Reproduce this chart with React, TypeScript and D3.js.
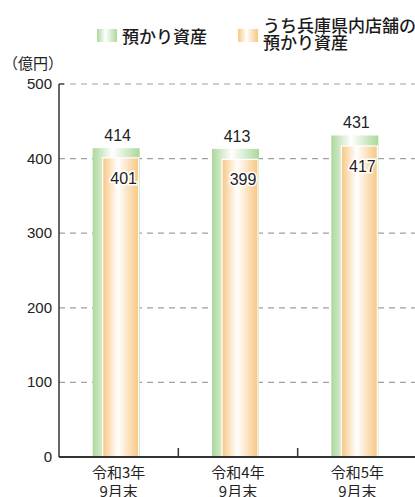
import React, { useEffect, useRef } from 'react';
import * as d3 from 'd3';

const categories = ['令和3年\n9月末', '令和4年\n9月末', '令和5年\n9月末'];
const totalAssets = [414, 413, 431];
const hyogoAssets = [401, 399, 417];
const yTicks = [0, 100, 200, 300, 400, 500];
const legendLabels = ['預かり資産', 'うち兵庫県内店舗の\n預かり資産'];

const JP = '"Noto Sans CJK JP", "Noto Sans", sans-serif';
const NUM = '"Liberation Sans Narrow", "Liberation Sans", Arial, sans-serif';

const App: React.FC = () => {
  const svgRef = useRef<SVGSVGElement>(null);

  useEffect(() => {
    if (!svgRef.current) return;
    const svg = d3.select(svgRef.current);
    svg.selectAll('*').remove();

    const W = 415;
    const H = 497;
    const x0 = 59;
    const x1 = 417;

    const y = d3.scaleLinear().domain([0, 500]).range([457, 84]);
    const x = d3.scaleBand().domain(categories).range([x0, x1]);

    // Gradients
    const defs = svg.append('defs');
    const grad = (id: string, edge: string, mid: string) => {
      const g = defs.append('linearGradient').attr('id', id)
        .attr('x1', '0%').attr('x2', '100%').attr('y1', '0%').attr('y2', '0%');
      g.append('stop').attr('offset', '0%').attr('stop-color', edge);
      g.append('stop').attr('offset', '42%').attr('stop-color', mid);
      g.append('stop').attr('offset', '100%').attr('stop-color', edge);
    };
    grad('gGreen', '#acd89b', '#ffffff');
    grad('gOrange', '#f8c682', '#ffffff');

    // Grid lines
    svg.append('g')
      .selectAll('line')
      .data(yTicks.filter(d => d > 0))
      .enter()
      .append('line')
      .attr('x1', x0)
      .attr('x2', W)
      .attr('y1', d => y(d))
      .attr('y2', d => y(d))
      .attr('stroke', '#a0a0a0')
      .attr('stroke-width', 1.2)
      .attr('stroke-dasharray', '6,5');

    // Y tick labels
    svg.append('g')
      .selectAll('text')
      .data(yTicks)
      .enter()
      .append('text')
      .attr('x', 52)
      .attr('y', d => y(d) + 5)
      .attr('text-anchor', 'end')
      .style('font-family', NUM)
      .style('font-size', '15px')
      .attr('fill', '#222')
      .text(d => d);

    svg.append('text')
      .attr('x', 3)
      .attr('y', 69)
      .style('font-family', JP)
      .style('font-size', '15px')
      .attr('fill', '#222')
      .text('（億円）');

    // Bars
    const groups = svg.append('g')
      .selectAll('g')
      .data(categories)
      .enter()
      .append('g')
      .attr('transform', d => `translate(${x(d)! + x.bandwidth() / 2},0)`);

    groups.append('rect')
      .attr('x', -26)
      .attr('width', 47)
      .attr('y', (_, i) => y(totalAssets[i]))
      .attr('height', (_, i) => y(0) - y(totalAssets[i]))
      .attr('fill', 'url(#gGreen)');

    groups.append('rect')
      .attr('x', -16)
      .attr('width', 36)
      .attr('y', (_, i) => y(hyogoAssets[i]))
      .attr('height', (_, i) => y(0) - y(hyogoAssets[i]))
      .attr('fill', 'url(#gOrange)')
      .attr('stroke', '#ffffff')
      .attr('stroke-width', 1.2);

    groups.append('text')
      .attr('x', -1)
      .attr('y', (_, i) => y(totalAssets[i]) - 7)
      .attr('text-anchor', 'middle')
      .style('font-family', NUM)
      .style('font-size', '16px')
      .attr('fill', '#222')
      .text((_, i) => totalAssets[i]);

    groups.append('text')
      .attr('x', 5)
      .attr('y', (_, i) => y(hyogoAssets[i]) + 26)
      .attr('text-anchor', 'middle')
      .style('font-family', NUM)
      .style('font-size', '16px')
      .attr('fill', '#222')
      .attr('stroke', '#ffffff')
      .attr('stroke-width', 3)
      .attr('paint-order', 'stroke')
      .text((_, i) => hyogoAssets[i]);

    // Axes
    svg.append('line')
      .attr('x1', x0).attr('x2', x0)
      .attr('y1', y(500)).attr('y2', y(0))
      .attr('stroke', '#333').attr('stroke-width', 1.5);
    svg.append('line')
      .attr('x1', x0).attr('x2', x0 + 5)
      .attr('y1', y(500)).attr('y2', y(500))
      .attr('stroke', '#333').attr('stroke-width', 1.2);
    svg.append('line')
      .attr('x1', x0).attr('x2', W)
      .attr('y1', y(0)).attr('y2', y(0))
      .attr('stroke', '#333').attr('stroke-width', 2);

    svg.append('g')
      .selectAll('line')
      .data(categories.slice(1))
      .enter()
      .append('line')
      .attr('x1', d => x(d)!)
      .attr('x2', d => x(d)!)
      .attr('y1', y(0) - 9)
      .attr('y2', y(0))
      .attr('stroke', '#333')
      .attr('stroke-width', 1.5);

    // X labels
    const xl = svg.append('g')
      .selectAll('text')
      .data(categories)
      .enter()
      .append('text')
      .attr('x', d => x(d)! + x.bandwidth() / 2)
      .attr('y', 478)
      .attr('text-anchor', 'middle')
      .style('font-family', JP)
      .style('font-size', '15px')
      .attr('fill', '#222');
    xl.selectAll('tspan')
      .data(d => d.split('\n').map((t, i) => ({ t, i })))
      .enter()
      .append('tspan')
      .attr('x', function () {
        return (this as SVGTSpanElement).parentElement!.getAttribute('x');
      })
      .attr('dy', d => (d.i === 0 ? 0 : 19))
      .text(d => d.t);

    // Legend
    const legend = [
      { x: 97, fill: 'url(#gGreen)', label: legendLabels[0] },
      { x: 238, fill: 'url(#gOrange)', label: legendLabels[1] },
    ];
    legend.forEach(l => {
      svg.append('rect')
        .attr('x', l.x)
        .attr('y', 29)
        .attr('width', 20)
        .attr('height', 13)
        .attr('fill', l.fill);
      const lines = l.label.split('\n');
      const t = svg.append('text')
        .attr('x', l.x + 25)
        .attr('y', lines.length > 1 ? 32 : 43)
        .style('font-family', JP)
        .style('font-size', '17px')
        .style('font-weight', 500)
        .attr('fill', '#1a1a1a');
      lines.forEach((line, i) => {
        t.append('tspan')
          .attr('x', l.x + 25)
          .attr('dy', i === 0 ? 0 : 17)
          .text(line);
      });
    });

    svg.attr('width', W).attr('height', H);
  }, []);

  return (
    <svg
      ref={svgRef}
      width={415}
      height={497}
      style={{ position: 'absolute', left: 0, top: 0, background: '#fff' }}
    />
  );
};

export default App;
